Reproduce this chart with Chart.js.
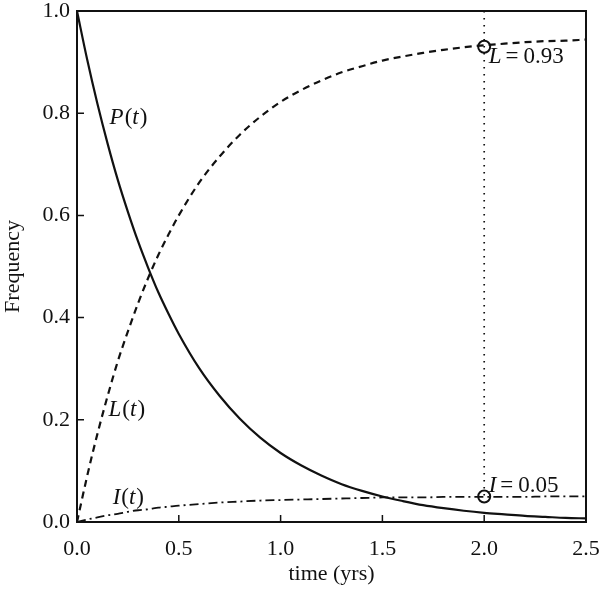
<!DOCTYPE html>
<html>
<head>
<meta charset="utf-8">
<script src="https://cdn.jsdelivr.net/npm/chart.js@4.4.1/dist/chart.umd.min.js"></script>
<style>
  html, body { margin: 0; padding: 0; background: #fff; }
  #wrap { width: 600px; height: 589px; }
</style>
</head>
<body>
<div id="wrap"><canvas id="myChart" width="600" height="589"></canvas></div>
<script>
// time points (yrs)
const times = [0, 0.05, 0.1, 0.15, 0.2, 0.25, 0.3, 0.35, 0.4, 0.45, 0.5, 0.6, 0.7, 0.8, 0.9, 1.0,
  1.1, 1.2, 1.3, 1.4, 1.5, 1.6, 1.7, 1.8, 1.9, 2.0, 2.1, 2.2, 2.3, 2.4, 2.5];
// P(t), solid
const pValues = [1, 0.905, 0.819, 0.741, 0.670, 0.607, 0.549, 0.497, 0.449, 0.407, 0.368, 0.301, 0.247,
  0.202, 0.165, 0.135, 0.111, 0.091, 0.074, 0.061, 0.050, 0.041, 0.033, 0.027, 0.022, 0.018, 0.015,
  0.012, 0.010, 0.008, 0.007];
// L(t), dashed
const lValues = [0, 0.090, 0.172, 0.246, 0.314, 0.373, 0.428, 0.478, 0.523, 0.563, 0.600, 0.664, 0.715,
  0.758, 0.793, 0.822, 0.845, 0.864, 0.880, 0.892, 0.903, 0.911, 0.918, 0.924, 0.929, 0.933, 0.936,
  0.939, 0.941, 0.942, 0.944];
// I(t), dash-dot
const iValues = [0, 0.005, 0.009, 0.013, 0.016, 0.020, 0.023, 0.025, 0.028, 0.030, 0.032, 0.035, 0.038,
  0.040, 0.042, 0.043, 0.044, 0.045, 0.046, 0.047, 0.048, 0.048, 0.048, 0.049, 0.049, 0.049, 0.049,
  0.049, 0.050, 0.050, 0.050];

// the marked values at t = 2
const markT = [2.0, 2.0];
const markY = [0.93, 0.05];
const guideY = [1.0, 0.05];

// curve names and the readout labels
const curveNames = ['P', 'L', 'I'];
const curveNameT = [0.16, 0.155, 0.175];
const curveNameY = [0.79, 0.22, 0.048];
const readoutNames = ['L', 'I'];
const readoutValues = ['0.93', '0.05'];
const readoutT = [2.022, 2.022];
const readoutY = [0.91, 0.071];

const xTicks = [0, 0.5, 1.0, 1.5, 2.0, 2.5];
const yTicks = [0, 0.2, 0.4, 0.6, 0.8, 1.0];

const serif = "'Liberation Serif', 'DejaVu Serif', serif";

function pts(xs, ys) {
  return xs.map((x, i) => ({ x: x, y: ys[i] }));
}

// frame, inward ticks and text labels
const decorations = {
  id: 'decorations',
  afterDatasetsDraw(chart) {
    const { ctx, chartArea: a, scales: { x, y } } = chart;
    ctx.save();
    ctx.strokeStyle = '#111';
    ctx.lineWidth = 2;
    ctx.strokeRect(a.left, a.top, a.right - a.left, a.bottom - a.top);

    ctx.lineWidth = 1.5;
    ctx.beginPath();
    xTicks.slice(1, -1).forEach(t => {
      const px = x.getPixelForValue(t);
      ctx.moveTo(px, a.bottom);
      ctx.lineTo(px, a.bottom - 7);
    });
    yTicks.slice(1, -1).forEach(v => {
      const py = y.getPixelForValue(v);
      ctx.moveTo(a.left, py);
      ctx.lineTo(a.left + 7, py);
    });
    ctx.stroke();

    const f = 23;
    ctx.fillStyle = '#111';
    ctx.textBaseline = 'middle';
    ctx.textAlign = 'left';
    curveNames.forEach((n, i) => {
      let px = x.getPixelForValue(curveNameT[i]);
      const py = y.getPixelForValue(curveNameY[i]);
      ctx.font = 'italic ' + f + 'px ' + serif;
      ctx.fillText(n, px, py);
      px += ctx.measureText(n).width + 1;
      ctx.font = f + 'px ' + serif;
      ctx.fillText('(', px, py);
      px += ctx.measureText('(').width;
      ctx.font = 'italic ' + f + 'px ' + serif;
      ctx.fillText('t', px, py);
      px += ctx.measureText('t').width + 1;
      ctx.font = f + 'px ' + serif;
      ctx.fillText(')', px, py);
    });
    readoutNames.forEach((n, i) => {
      let px = x.getPixelForValue(readoutT[i]);
      const py = y.getPixelForValue(readoutY[i]);
      ctx.font = 'italic ' + f + 'px ' + serif;
      ctx.fillText(n, px, py);
      px += ctx.measureText(n).width + 4;
      ctx.font = f + 'px ' + serif;
      ctx.fillText('=', px, py);
      px += ctx.measureText('=').width + 5;
      ctx.fillText(readoutValues[i], px, py);
    });
    ctx.restore();
  }
};

const ctx = document.getElementById('myChart');

new Chart(ctx, {
  type: 'line',
  data: {
    datasets: [
      {
        label: 'P(t)',
        data: pts(times, pValues),
        borderColor: '#111',
        borderWidth: 2.2,
        pointRadius: 0,
        cubicInterpolationMode: 'monotone',
      },
      {
        label: 'L(t)',
        data: pts(times, lValues),
        borderColor: '#111',
        borderWidth: 2.2,
        borderDash: [7, 5],
        pointRadius: 0,
        cubicInterpolationMode: 'monotone',
      },
      {
        label: 'I(t)',
        data: pts(times, iValues),
        borderColor: '#111',
        borderWidth: 1.8,
        borderDash: [9, 4, 2, 4],
        pointRadius: 0,
        cubicInterpolationMode: 'monotone',
      },
      {
        label: 'guide',
        data: pts(markT, guideY),
        borderColor: '#111',
        borderWidth: 1.7,
        borderDash: [1.5, 5.5],
        pointRadius: 0,
      },
      {
        label: 'marks',
        data: pts(markT, markY),
        showLine: false,
        pointStyle: 'circle',
        pointRadius: 6,
        pointBorderWidth: 2,
        pointBorderColor: '#111',
        pointBackgroundColor: 'rgba(0,0,0,0)',
      },
    ],
  },
  options: {
    responsive: false,
    animation: false,
    layout: { padding: { left: 0, right: 14, top: 11, bottom: 0 } },
    plugins: {
      legend: { display: false },
      tooltip: { enabled: false },
    },
    scales: {
      x: {
        type: 'linear',
        min: 0,
        max: 2.5,
        grid: { display: false, drawTicks: false },
        border: { display: false },
        afterBuildTicks: s => { s.ticks = xTicks.map(v => ({ value: v })); },
        afterFit: s => { s.height = 67; s.paddingLeft = 0; s.paddingRight = 0; },
        ticks: {
          padding: 14,
          color: '#111',
          font: { family: serif, size: 22 },
          callback: v => v.toFixed(1),
        },
        title: {
          display: true,
          text: 'time (yrs)',
          color: '#111',
          font: { family: serif, size: 22 },
          padding: { top: 0, bottom: 2 },
        },
      },
      y: {
        min: 0,
        max: 1,
        grid: { display: false, drawTicks: false },
        border: { display: false },
        afterBuildTicks: s => { s.ticks = yTicks.map(v => ({ value: v })); },
        afterFit: s => { s.width = 77; s.paddingTop = 0; s.paddingBottom = 0; },
        ticks: {
          padding: 7,
          color: '#111',
          font: { family: serif, size: 22 },
          callback: v => v.toFixed(1),
        },
        title: {
          display: true,
          text: 'Frequency',
          color: '#111',
          font: { family: serif, size: 22 },
          padding: { top: 0, bottom: 0 },
        },
      },
    },
  },
  plugins: [decorations],
});
</script>
</body>
</html>
